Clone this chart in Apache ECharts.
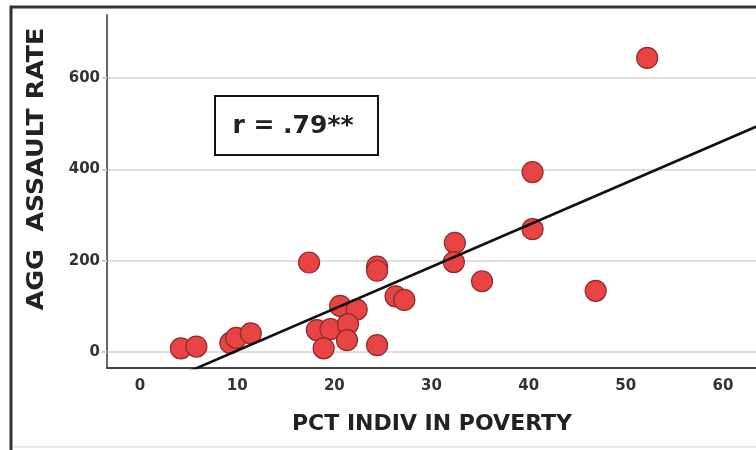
<!DOCTYPE html>
<html>
<head>
<meta charset="utf-8">
<script src="https://cdn.jsdelivr.net/npm/echarts@6/dist/echarts.min.js"></script>
<style>html,body{margin:0;padding:0;background:#fff;}#c{width:756px;height:450px;}</style>
</head>
<body>
<div id="c"></div>
<script>
// Data
const povertyPct = [4.2, 5.8, 9.3, 9.9, 11.4, 17.4, 18.2, 19.6, 18.9, 20.6, 22.3, 21.4, 21.3, 24.4, 24.4, 24.4, 26.3, 27.2, 32.4, 32.3, 35.2, 40.4, 40.4, 46.9, 52.2];
const assaultRate = [8, 12, 20, 31, 41, 196, 48, 50, 8, 101, 93, 61, 26, 187, 178, 15, 122, 114, 239, 197, 155, 394, 269, 134, 644];
const xTicks = [0, 10, 20, 30, 40, 50, 60];
const yTicks = [0, 200, 400, 600];
const fitIntercept = -88.8;
const fitSlope = 9.18;
const fitRange = [0, 70];
const xTitle = 'PCT INDIV IN POVERTY';
const yTitle = 'AGG  ASSAULT RATE';
const rLabel = 'r = .79**';

const points = povertyPct.map((x, i) => [x, assaultRate[i]]);
const fitLine = fitRange.map(x => [x, fitIntercept + fitSlope * x]);

const chart = echarts.init(document.getElementById('c'));
const font = 'DejaVu Sans';
chart.setOption({
  animation: false,
  backgroundColor: '#fff',
  grid: { left: 107, top: 15, right: 0, bottom: 82 },
  xAxis: {
    type: 'value', min: -3.4, max: 63.4,
    axisLine: { show: true, onZero: false, lineStyle: { color: '#444', width: 2 } },
    axisTick: { show: false, customValues: xTicks },
    axisLabel: { customValues: xTicks, margin: 11, color: '#333', fontFamily: font, fontWeight: 'bold', fontSize: 15 },
    splitLine: { show: false }
  },
  yAxis: {
    type: 'value', min: -35, max: 738,
    axisLine: { show: true, onZero: false, lineStyle: { color: '#666', width: 2 } },
    axisTick: { show: true, length: 5, customValues: yTicks, lineStyle: { color: '#ccc', width: 2 } },
    axisLabel: { customValues: yTicks, margin: 7, color: '#333', fontFamily: font, fontWeight: 'bold', fontSize: 15 },
    splitLine: { show: true, lineStyle: { color: '#dedede', width: 2 } }
  },
  graphic: [
    { type: 'rect', shape: { x: 11, y: 7, width: 800, height: 500 }, style: { fill: 'none', stroke: '#333', lineWidth: 3 }, z: 10 },
    { type: 'line', shape: { x1: 13, y1: 447, x2: 756, y2: 447 }, style: { stroke: '#e2e2e2', lineWidth: 1.5 } },
    { type: 'text', x: 37, y: 169, rotation: Math.PI / 2, scaleX: 1.1, scaleY: 1,
      style: { text: yTitle, fill: '#222', font: 'bold 23px "DejaVu Sans"', textAlign: 'center', textVerticalAlign: 'middle' } },
    { type: 'text', x: 432, y: 424,
      style: { text: xTitle, fill: '#222', font: 'bold 22px "DejaVu Sans"', textAlign: 'center', textVerticalAlign: 'middle' } },
    { type: 'rect', shape: { x: 215, y: 96, width: 163, height: 59 }, style: { fill: '#fff', stroke: '#111', lineWidth: 2 }, z: 20 },
    { type: 'text', x: 293, y: 126, z: 21,
      style: { text: rLabel, fill: '#222', font: 'bold 25px "DejaVu Sans"', textAlign: 'center', textVerticalAlign: 'middle' } }
  ],
  series: [
    {
      type: 'scatter', data: points, symbolSize: 21, z: 2,
      itemStyle: { color: '#e84444', borderColor: '#8e2b2b', borderWidth: 1.2, opacity: 1 }
    },
    {
      type: 'line', data: fitLine, showSymbol: false, symbol: 'none', z: 3, clip: true,
      lineStyle: { color: '#111', width: 2.6 }
    }
  ]
});
</script>
</body>
</html>
